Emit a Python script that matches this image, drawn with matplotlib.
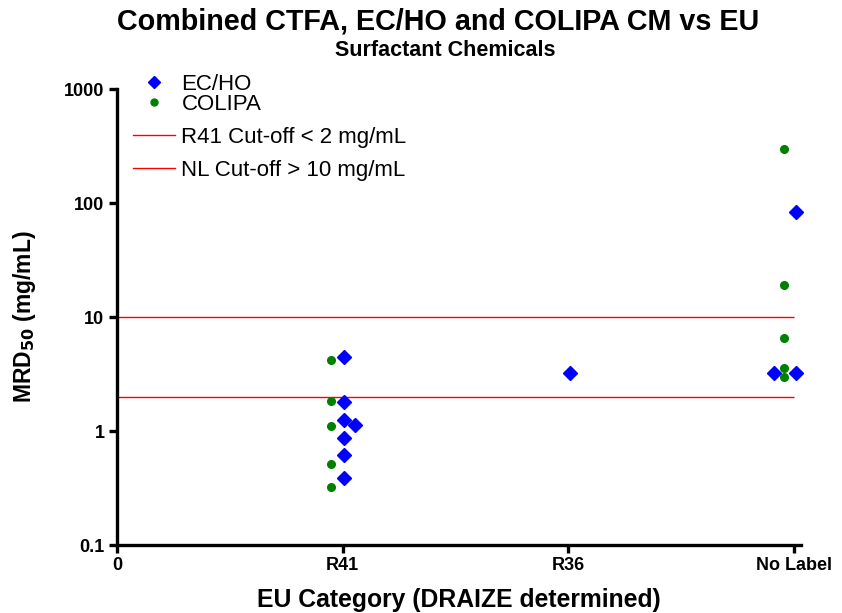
import matplotlib
matplotlib.use("Agg")
import matplotlib.pyplot as plt
from matplotlib.lines import Line2D

plt.rcParams['font.family'] = ['Liberation Sans', 'DejaVu Sans']

# Category axis
categories = ["0", "R41", "R36", "No Label"]
cat_pos = [0, 1, 2, 3]

# EC/HO results (MRD50, mg/mL) with category index and horizontal jitter
echo_cat = [1, 1, 1, 1, 1, 1, 1, 2, 3, 3, 3]
echo_jit = [0.005, 0.005, 0.005, 0.055, 0.005, 0.005, 0.005, 0.005, -0.09, 0.01, 0.01]
echo_mrd = [4.5, 1.8, 1.25, 1.12, 0.86, 0.62, 0.39, 3.2, 3.25, 3.25, 84.0]

# COLIPA results
colipa_cat = [1, 1, 1, 1, 1, 3, 3, 3, 3, 3]
colipa_jit = [-0.05, -0.05, -0.05, -0.05, -0.05, -0.045, -0.045, -0.045, -0.045, -0.045]
colipa_mrd = [4.2, 1.83, 1.1, 0.51, 0.32, 300.0, 19.0, 6.5, 3.55, 3.0]

# Cut-off levels
cutoffs = [2, 10]
cutoff_labels = ["R41 Cut-off < 2 mg/mL", "NL Cut-off > 10 mg/mL"]

fig = plt.figure(figsize=(8.42, 6.13), dpi=100)
ax = fig.add_axes([117/842, 68/613, (801-117)/842, (545-89)/613])

ax.set_yscale('log')
ax.set_ylim(0.1, 1000)
ax.set_xlim(0, 3.03)

for y in cutoffs:
    ax.hlines(y, 0, 3.0, colors='red', linewidth=1.0, zorder=1)

ax.plot([c + j for c, j in zip(echo_cat, echo_jit)], echo_mrd, linestyle='none',
        marker='D', markersize=7, color='#0000ff', zorder=3, clip_on=False)
ax.plot([c + j for c, j in zip(colipa_cat, colipa_jit)], colipa_mrd, linestyle='none',
        marker='o', markersize=5.5, color='#008000', zorder=3, clip_on=False)

for s in ['top', 'right']:
    ax.spines[s].set_visible(False)
for s in ['left', 'bottom']:
    ax.spines[s].set_linewidth(2.4)

ax.set_xticks(cat_pos)
ax.set_xticklabels(categories)
ax.set_yticks([0.1, 1, 10, 100, 1000])
ax.set_yticklabels(["0.1", "1", "10", "100", "1000"])
ax.minorticks_off()
ax.tick_params(axis='both', width=2.4, length=6, direction='out', pad=3)
for lab in ax.get_xticklabels() + ax.get_yticklabels():
    lab.set_fontsize(13)
    lab.set_fontweight('bold')

ax.set_xlabel("EU Category (DRAIZE determined)", fontsize=17.8, fontweight='bold')
ax.xaxis.set_label_coords(0.5, -(600 - 545) / (545 - 89), transform=ax.transAxes)
ax.set_ylabel("MRD$_{\\mathbf{50}}$ (mg/mL)", fontsize=16.5, fontweight='bold')
ax.yaxis.set_label_coords(-(117 - 25) / (801 - 117), 0.5, transform=ax.transAxes)
ax.xaxis.label.set_va('center')
ax.yaxis.label.set_va('center')

fig.text(438/842, 1 - 22/613, "Combined CTFA, EC/HO and COLIPA CM vs EU", ha='center', va='center',
         fontsize=20.7, fontweight='bold')
fig.text(445/842, 1 - 50/613, "Surfactant Chemicals", ha='center', va='center',
         fontsize=15.5, fontweight='bold')

marker_handles = [
    Line2D([], [], linestyle='none', marker='D', markersize=6, color='#0000ff'),
    Line2D([], [], linestyle='none', marker='o', markersize=5, color='#008000'),
]
leg1 = ax.legend(marker_handles, ["EC/HO", "COLIPA"], loc='upper left',
                 bbox_to_anchor=(133/842, 1 - 74/613), bbox_transform=fig.transFigure,
                 frameon=False, fontsize=16, handlelength=1.9, handletextpad=0.28,
                 labelspacing=-0.06, borderpad=0, borderaxespad=0)
ax.add_artist(leg1)
line_handles = [Line2D([], [], color='red', linewidth=1.0) for _ in cutoffs]
ax.legend(line_handles, cutoff_labels, loc='upper left',
          bbox_to_anchor=(133/842, 1 - 127/613), bbox_transform=fig.transFigure,
          frameon=False, fontsize=16, handlelength=1.9, handletextpad=0.28,
          labelspacing=0.52, borderpad=0, borderaxespad=0)

fig.savefig("out.png", dpi=100)
